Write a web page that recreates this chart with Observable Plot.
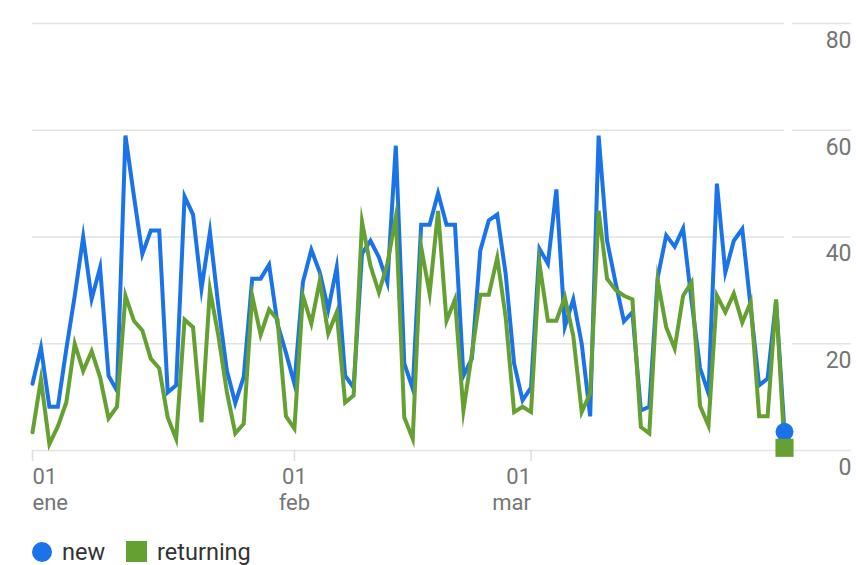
<!DOCTYPE html>
<html>
<head>
<meta charset="utf-8">
<script src="https://cdn.jsdelivr.net/npm/d3@7"></script>
<script src="https://cdn.jsdelivr.net/npm/@observablehq/plot@0.6"></script>
<style>
  html, body { margin: 0; padding: 0; background: #fff; }
  body { width: 856px; height: 565px; overflow: hidden; font-family: Roboto, sans-serif; }
  #legend { position: absolute; left: 0; top: 540px; display: flex; align-items: center; height: 23px; padding-left: 32px; font-size: 23.5px; color: #333; }
  .sw { display: inline-block; width: 20px; height: 20px; margin-right: 10px; }
  .item { display: flex; align-items: center; margin-right: 21px; }
</style>
</head>
<body>
<div id="chart"></div>
<div id="legend"></div>
<script>
const startDate = "2015-01-01";
const seriesNames = ["new", "returning"];
const seriesColors = ["#1a73e8", "#64a032"];
const monthNames = ["ene", "feb", "mar"];
const yTicks = [0, 20, 40, 60, 80];

const newValues = [
  12.5, 19.3, 8.2, 8.2, 19, 29, 40, 28.4, 34.3, 14,
  11.2, 59, 47.7, 36.8, 41.2, 41.2, 10.9, 12.2, 47.6, 44.2,
  30.3, 40.9, 27, 15, 8.9, 13.8, 32.2, 32.2, 34.8, 23.7,
  18.3, 12.5, 31.5, 37.6, 33.4, 26.4, 34.3, 14, 11.8, 36.9,
  39.3, 36.2, 31.5, 57.1, 16.3, 11.6, 42.3, 42.3, 48.2, 42.3,
  42.3, 14, 17.2, 37.5, 43.1, 44.2, 33.1, 16.3, 9.4, 11.8,
  37.8, 35, 48.9, 23.2, 28.3, 20, 6.4, 59, 39.3, 31.5,
  24.2, 25.9, 7.5, 8.2, 32.5, 40.3, 38.2, 41.6, 28, 15.5,
  10.7, 50, 33.4, 39.3, 41.5, 26.8, 12.2, 13.5, 28, 3.5
];
const returningValues = [
  3.4, 13.3, 1.2, 4.5, 9, 20, 14.9, 18.6, 13.7, 6,
  8.2, 29, 24.3, 22.5, 17.2, 15.4, 6.2, 2.2, 24.5, 23.1,
  5.3, 30.1, 21.5, 11, 3.2, 5, 29, 21.7, 26.4, 24.5,
  6.4, 4.1, 29, 23.8, 31.8, 21.9, 25.9, 9, 10.3, 42.8,
  34.6, 29.6, 35, 43.8, 6.2, 2.2, 38.1, 29.4, 44.9, 24.3,
  28.3, 7.5, 18.1, 29.2, 29.2, 36.1, 25, 7.2, 8.2, 7.2,
  35, 24.3, 24.3, 28.7, 21.5, 7.2, 10.7, 44.9, 32.2, 30.1,
  29, 28.3, 4.4, 3.2, 31.8, 23.1, 19.1, 29, 31.5, 8.4,
  4.7, 29, 25.9, 29.4, 24, 27.8, 6.4, 6.4, 28.3, 0.5
];

const start = new Date(startDate + "T00:00:00Z");
const dates = newValues.map((_, i) => d3.utcDay.offset(start, i));
const monthStarts = [0, 1, 2].map(m => d3.utcMonth.offset(start, m));

const newData = newValues.map((v, i) => ({date: dates[i], value: v}));
const retData = returningValues.map((v, i) => ({date: dates[i], value: v}));

const fmt = d => "01\n" + monthNames[d.getUTCMonth()];
const axisText = {tickSize: 0, tickPadding: 15, tickFormat: fmt, fill: "#757575", lineHeight: 1.17, fontSize: 22};

const chart = Plot.plot({
  width: 856,
  height: 525,
  marginLeft: 32,
  marginRight: 72,
  marginTop: 23,
  marginBottom: 75,
  style: {fontFamily: "Roboto, sans-serif", fontSize: "22px", color: "#757575", background: "#fff"},
  x: {type: "utc", domain: [dates[0], dates[dates.length - 1]]},
  y: {domain: [0, 80]},
  marks: [
    Plot.gridY(yTicks, {stroke: "#e4e4e4", strokeWidth: 1.6, strokeOpacity: 1, insetRight: -67, strokeDasharray: "752 8 60"}),
    Plot.axisY(yTicks, {anchor: "right", tickSize: 0, tickPadding: 67, textAnchor: "end", dy: 17, fill: "#757575", fontSize: 23, label: null}),
    Plot.axisX(monthStarts, {tickSize: 11, stroke: "#e0e0e0", strokeWidth: 1.6, text: null, label: null}),
    Plot.axisX([monthStarts[0]], {...axisText, textAnchor: "start", label: null}),
    Plot.axisX([monthStarts[1]], {...axisText, textAnchor: "middle", label: null}),
    Plot.axisX([monthStarts[2]], {...axisText, textAnchor: "end", label: null}),
    Plot.line(newData, {x: "date", y: "value", stroke: seriesColors[0], strokeWidth: 4, strokeLinejoin: "miter", strokeMiterlimit: 10}),
    Plot.line(retData, {x: "date", y: "value", stroke: seriesColors[1], strokeWidth: 4, strokeLinejoin: "miter", strokeMiterlimit: 10}),
    Plot.dot([newData[newData.length - 1]], {x: "date", y: "value", r: 9, fill: seriesColors[0], symbol: "circle"}),
    Plot.dot([retData[retData.length - 1]], {x: "date", y: "value", r: 10.2, fill: seriesColors[1], symbol: "square"})
  ]
});
document.getElementById("chart").appendChild(chart);

const legend = document.getElementById("legend");
seriesNames.forEach((name, i) => {
  const item = document.createElement("div");
  item.className = "item";
  const sw = document.createElement("span");
  sw.className = "sw";
  sw.style.background = seriesColors[i];
  if (i === 0) sw.style.borderRadius = "50%";
  else { sw.style.width = "21px"; sw.style.height = "21px"; }
  item.appendChild(sw);
  const t = document.createElement("span");
  t.textContent = name;
  item.appendChild(t);
  legend.appendChild(item);
});
</script>
</body>
</html>
